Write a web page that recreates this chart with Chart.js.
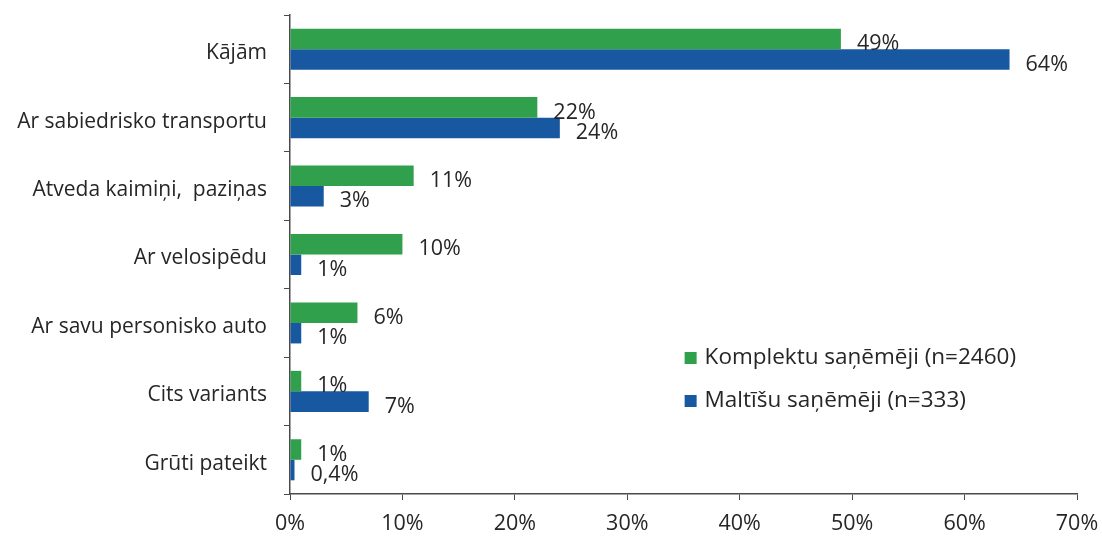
<!DOCTYPE html>
<html>
<head>
<meta charset="utf-8">
<script src="https://cdn.jsdelivr.net/npm/chart.js@4.4.1/dist/chart.umd.min.js"></script>
<style>
  html, body { margin: 0; padding: 0; background: #fff; }
  #wrap { width: 1102px; height: 537px; }
</style>
</head>
<body>
<div id="wrap"><canvas id="chart" width="1102" height="537"></canvas></div>
<script>
// categories and series
const categories = ['Kājām', 'Ar sabiedrisko transportu', 'Atveda kaimiņi,  paziņas', 'Ar velosipēdu',
                    'Ar savu personisko auto', 'Cits variants', 'Grūti pateikt'];
const komplekti = [49, 22, 11, 10, 6, 1, 1];
const maltites = [64, 24, 3, 1, 1, 7, 0.4];
const seriesNames = ['Komplektu saņēmēji (n=2460)', 'Maltīšu saņēmēji (n=333)'];
const xTicks = [0, 10, 20, 30, 40, 50, 60, 70];

const GREEN = '#30a04c';
const BLUE = '#1758a1';
const TEXT = '#262626';
const AXIS = '#4a4a4a';
const FONT = '"Open Sans", "DejaVu Sans", sans-serif';

const fmt = v => String(v).replace('.', ',') + '%';

// value labels to the right of every bar
const valueLabels = {
    id: 'valueLabels',
    afterDatasetsDraw(chart) {
        const ctx = chart.ctx;
        ctx.save();
        ctx.font = '21.5px ' + FONT;
        ctx.fillStyle = TEXT;
        ctx.textAlign = 'left';
        ctx.textBaseline = 'middle';
        chart.data.datasets.forEach((ds, i) => {
            chart.getDatasetMeta(i).data.forEach((bar, j) => {
                ctx.fillText(fmt(ds.data[j]), bar.x + 16, bar.y + 5);
            });
        });
        ctx.restore();
    }
};

// legend drawn inside the plot area
const sideLegend = {
    id: 'sideLegend',
    afterDraw(chart) {
        const ctx = chart.ctx;
        const x = chart.scales.x.getPixelForValue(35.1);
        const ys = [358, 401];
        ctx.save();
        ctx.font = '22.5px ' + FONT;
        ctx.textBaseline = 'middle';
        ctx.textAlign = 'left';
        chart.data.datasets.forEach((ds, i) => {
            ctx.fillStyle = ds.backgroundColor;
            ctx.fillRect(x, ys[i] - 6, 12, 12);
            ctx.fillStyle = TEXT;
            ctx.fillText(ds.label, x + 20, ys[i]);
        });
        ctx.restore();
    }
};

new Chart(document.getElementById('chart'), {
    type: 'bar',
    data: {
        labels: categories,
        datasets: [
            { label: seriesNames[0], data: komplekti, backgroundColor: GREEN },
            { label: seriesNames[1], data: maltites, backgroundColor: BLUE }
        ]
    },
    options: {
        indexAxis: 'y',
        responsive: false,
        animation: false,
        devicePixelRatio: 1,
        layout: { padding: { top: 15, right: 25, bottom: 0, left: 0 } },
        datasets: { bar: { categoryPercentage: 0.6, barPercentage: 1 } },
        plugins: { legend: { display: false }, tooltip: { enabled: false } },
        scales: {
            x: {
                min: 0, max: 70,
                afterBuildTicks: s => { s.ticks = xTicks.map(v => ({ value: v })); },
                afterFit: s => { s.height = 43; s.paddingLeft = 0; s.paddingRight = 0; },
                grid: { drawOnChartArea: false, tickLength: 6, color: AXIS, lineWidth: 1 },
                border: { color: AXIS, width: 1.5 },
                ticks: { color: TEXT, font: { family: FONT, size: 21.5 }, padding: 11, callback: v => v + '%' }
            },
            y: {
                afterFit: s => { s.width = 290; s.paddingTop = 0; s.paddingBottom = 0; },
                grid: { drawOnChartArea: false, offset: true, tickLength: 6, color: AXIS, lineWidth: 1 },
                border: { color: AXIS, width: 1.5 },
                ticks: { color: TEXT, font: { family: FONT, size: 21 }, padding: 17, labelOffset: 4 }
            }
        }
    },
    plugins: [valueLabels, sideLegend]
});
</script>
</body>
</html>
